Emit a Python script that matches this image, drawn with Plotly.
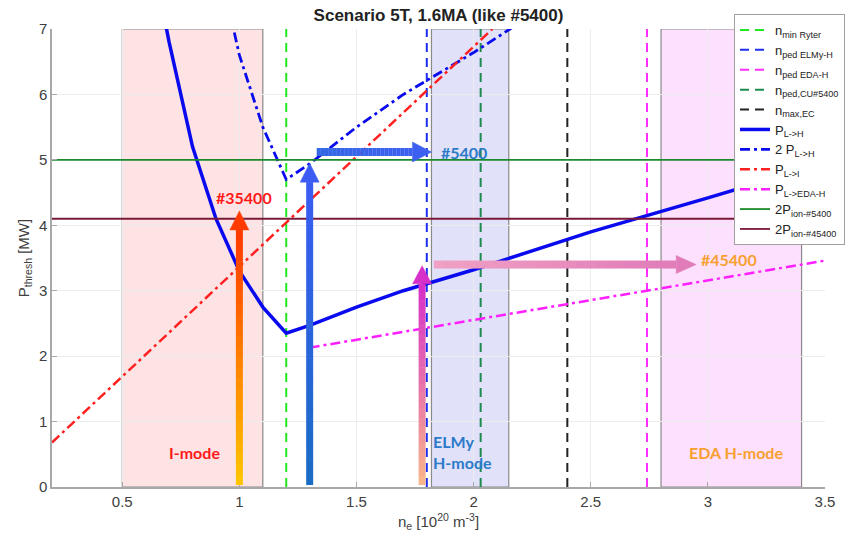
import plotly.graph_objects as go

# ---------------- data ----------------
x_plh = [0.6, 0.7, 0.8, 0.9, 1.0, 1.1, 1.2, 1.3, 1.5, 1.7, 2.0, 2.5, 3.0, 3.5]
y_plh = [8.6, 6.8, 5.2, 4.1, 3.3, 2.75, 2.35, 2.47, 2.75, 3.0, 3.32, 3.9, 4.42, 4.95]
x_2plh = [0.9, 1.0, 1.1, 1.2, 1.3, 1.5, 1.7, 2.0, 2.5]
y_2plh = [8.2, 6.6, 5.5, 4.7, 4.94, 5.5, 6.0, 6.64, 7.8]
x_pli = [0.2, 2.08]
y_pli = [0.68, 7.0]
x_peda = [1.3, 3.5]
y_peda = [2.13, 3.46]
n_min_ryter = 1.2
n_ped_elmy = 1.8
n_ped_eda = 2.74
n_ped_cu = 2.03
n_max_ec = 2.40
p_ion_5400 = 5.0
p_ion_45400 = 4.1
regimes = [("I-mode", 0.5, 1.1), ("ELMy", 1.82, 2.15), ("EDA", 2.8, 3.4)]

XMIN, XMAX, YMIN, YMAX = 0.2, 3.5, 0.0, 7.0
L, R, T, B = 52, 24, 29, 60
W, H = 849, 547
pxx = (W - L - R) / (XMAX - XMIN)
pxy = (H - T - B) / (YMAX - YMIN)

fig = go.Figure()

def vline(x, name, color):
    fig.add_trace(go.Scatter(x=[x, x], y=[YMIN, YMAX], mode="lines", name=name,
                             line=dict(color=color, width=2, dash="9px,6px")))

vline(n_min_ryter, "n<sub>min Ryter</sub>", "#22e822")
vline(n_ped_elmy, "n<sub>ped ELMy-H</sub>", "#1f2ff0")
vline(n_ped_eda, "n<sub>ped EDA-H</sub>", "#ff2cff")
vline(n_ped_cu, "n<sub>ped,CU#5400</sub>", "#1e8a50")
vline(n_max_ec, "n<sub>max,EC</sub>", "#222222")

fig.add_trace(go.Scatter(x=x_plh, y=y_plh, mode="lines", name="P<sub>L-&gt;H</sub>",
                         line=dict(color="#0a0aee", width=3.5)))
fig.add_trace(go.Scatter(x=x_2plh, y=y_2plh, mode="lines", name="2 P<sub>L-&gt;H</sub>",
                         line=dict(color="#0a0aee", width=2.8, dash="10px,4px,3px,4px")))
fig.add_trace(go.Scatter(x=x_pli, y=y_pli, mode="lines", name="P<sub>L-&gt;I</sub>",
                         line=dict(color="#ff2020", width=2.5, dash="10px,4px,3px,4px")))
fig.add_trace(go.Scatter(x=x_peda, y=y_peda, mode="lines", name="P<sub>L-&gt;EDA-H</sub>",
                         line=dict(color="#ff20ff", width=2.5, dash="10px,4px,3px,4px")))
fig.add_trace(go.Scatter(x=[XMIN, XMAX], y=[p_ion_5400] * 2, mode="lines",
                         name="2P<sub>ion-#5400</sub>", line=dict(color="#1a8a2a", width=1.8)))
fig.add_trace(go.Scatter(x=[XMIN, XMAX], y=[p_ion_45400] * 2, mode="lines",
                         name="2P<sub>ion-#45400</sub>", line=dict(color="#7a1838", width=1.8)))

shapes = []
fills = {"I-mode": "rgba(250,170,170,0.33)", "ELMy": "rgba(170,170,240,0.35)",
         "EDA": "rgba(250,160,250,0.32)"}
for key, x0, x1 in regimes:
    shapes.append(dict(type="rect", xref="x", yref="y", x0=x0, x1=x1, y0=YMIN, y1=YMAX,
                       fillcolor=fills[key], line=dict(color="#8a8a8a", width=1.2),
                       layer="below"))


def hex2rgb(h):
    h = h.lstrip("#")
    return tuple(int(h[i:i + 2], 16) for i in (0, 2, 4))


def mix(c0, c1, t):
    a, b = hex2rgb(c0), hex2rgb(c1)
    return "rgb(%d,%d,%d)" % tuple(round(a[i] + (b[i] - a[i]) * t) for i in range(3))


def arrow(x0, y0, x1, y1, c0, c1, shaft_px, head_w_px, head_l_px, n=24):
    vertical = abs(x1 - x0) < 1e-9
    if vertical:
        hl = head_l_px / pxy
        ys = y1 - hl
        for i in range(n):
            a = y0 + (ys - y0) * i / n
            b = y0 + (ys - y0) * (i + 1.05) / n
            shapes.append(dict(type="line", xref="x", yref="y", x0=x0, x1=x0, y0=a, y1=min(b, ys),
                               line=dict(color=mix(c0, c1, i / (n - 1)), width=shaft_px)))
        hw = head_w_px / 2 / pxx
        path = "M %f,%f L %f,%f L %f,%f Z" % (x0 - hw, ys, x0 + hw, ys, x0, y1)
    else:
        hl = head_l_px / pxx
        xs = x1 - hl
        for i in range(n):
            a = x0 + (xs - x0) * i / n
            b = x0 + (xs - x0) * (i + 1.05) / n
            shapes.append(dict(type="line", xref="x", yref="y", x0=a, x1=min(b, xs), y0=y0, y1=y0,
                               line=dict(color=mix(c0, c1, i / (n - 1)), width=shaft_px)))
        hw = head_w_px / 2 / pxy
        path = "M %f,%f L %f,%f L %f,%f Z" % (xs, y0 - hw, xs, y0 + hw, x1, y0)
    shapes.append(dict(type="path", xref="x", yref="y", path=path,
                       fillcolor=c1, line=dict(color=c1, width=0.5)))


arrow(1.0, 0.03, 1.0, 4.22, "#ffc400", "#ff3a00", 7, 19, 19)
arrow(1.3, 0.03, 1.3, 4.95, "#1a6cc4", "#3a5cf2", 7, 19, 19)
arrow(1.33, 5.12, 1.82, 5.12, "#3468e4", "#3d60f0", 8, 20, 19)
arrow(1.78, 0.03, 1.78, 3.38, "#f8b48a", "#d630c8", 7, 19, 18)
arrow(1.83, 3.40, 2.95, 3.40, "#f0a0c4", "#e07cb8", 8, 18, 20)

TXT = "Lato"
ann = [
    dict(x=1.02, y=4.43, text="<b>#35400</b>", color="#ff1a1a", xanchor="center"),
    dict(x=1.96, y=5.12, text="<b>#5400</b>", color="#2a7ac8", xanchor="center"),
    dict(x=3.09, y=3.47, text="<b>#45400</b>", color="#f7a030", xanchor="center"),
    dict(x=0.81, y=0.52, text="<b>I-mode</b>", color="#ff1a1a", xanchor="center"),
    dict(x=1.82, y=0.69, text="<b>ELMy</b>", color="#2a7ac8", xanchor="left"),
    dict(x=1.82, y=0.37, text="<b>H-mode</b>", color="#2a7ac8", xanchor="left"),
    dict(x=3.12, y=0.52, text="<b>EDA H-mode</b>", color="#f7a030", xanchor="center"),
]
annotations = [dict(x=a["x"], y=a["y"], xref="x", yref="y", text=a["text"], showarrow=False,
                    xanchor=a["xanchor"], yanchor="middle",
                    font=dict(family=TXT, size=16, color=a["color"])) for a in ann]

axis_common = dict(showgrid=True, gridcolor="#ececec", gridwidth=1, zeroline=False,
                   showline=True, linecolor="#a8a8a8", linewidth=1.5, ticks="inside",
                   ticklen=5, tickcolor="#a8a8a8",
                   tickfont=dict(family="Liberation Sans", size=15, color="#404040"))

fig.update_layout(
    width=W, height=H,
    margin=dict(l=L, r=R, t=T, b=B, autoexpand=False),
    paper_bgcolor="white", plot_bgcolor="white",
    title=dict(text="<b>Scenario 5T, 1.6MA (like #5400)</b>", x=0.5, xref="paper",
               y=0.972, yref="container", xanchor="center", yanchor="middle",
               font=dict(family="Liberation Sans", size=17, color="#222222")),
    xaxis=dict(range=[XMIN, XMAX], tickvals=[0.5, 1, 1.5, 2, 2.5, 3, 3.5],
               ticktext=["0.5", "1", "1.5", "2", "2.5", "3", "3.5"],
               title=dict(text="n<sub>e</sub> [10<sup>20</sup> m<sup>-3</sup>]", standoff=8,
                          font=dict(family="Liberation Sans", size=15, color="#404040")),
               **axis_common),
    yaxis=dict(range=[YMIN, YMAX], tickvals=[0, 1, 2, 3, 4, 5, 6, 7],
               title=dict(text="P<sub>thresh</sub> [MW]", standoff=6,
                          font=dict(family="Liberation Sans", size=15, color="#404040")),
               **axis_common),
    legend=dict(x=(845 - L) / (W - L - R), y=(H - B - 14) / (H - T - B), xanchor="right",
                yanchor="top", bgcolor="white", bordercolor="#a0a0a0", borderwidth=1,
                font=dict(family="Liberation Sans", size=13, color="#222222"),
                tracegroupgap=0, itemwidth=30),
    shapes=shapes, annotations=annotations, showlegend=True,
)

fig.write_html("out.html")
